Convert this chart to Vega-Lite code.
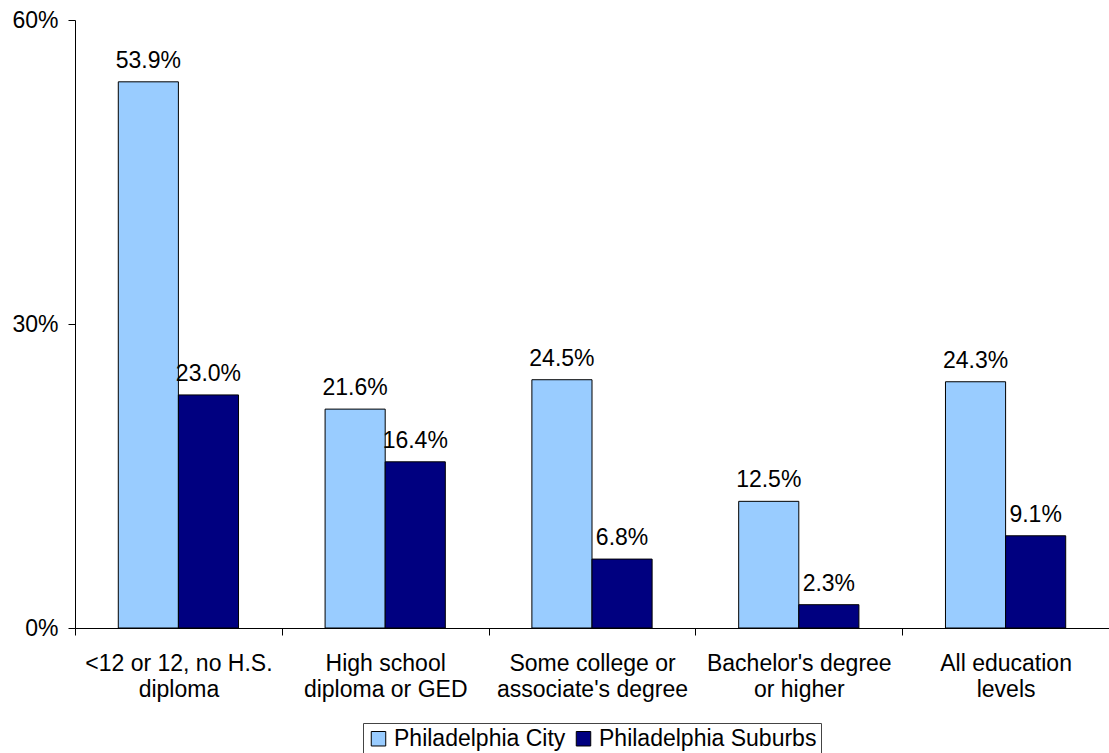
{
  "$schema": "https://vega.github.io/schema/vega-lite/v6.json",
  "width": 1034,
  "height": 608,
  "autosize": {"type": "none"},
  "padding": {"left": 75, "top": 20, "right": 0, "bottom": 125},
  "background": "white",
  "config": {
    "view": {"stroke": null},
    "font": "Liberation Sans",
    "axis": {"labelFont": "Liberation Sans", "labelColor": "black", "domainColor": "black", "tickColor": "black", "labelFontSize": 23}
  },
  "data": {
    "values": [
      {"edu": "<12 or 12, no H.S.|diploma", "area": "Philadelphia City", "value": 0.539},
      {"edu": "<12 or 12, no H.S.|diploma", "area": "Philadelphia Suburbs", "value": 0.230},
      {"edu": "High school|diploma or GED", "area": "Philadelphia City", "value": 0.216},
      {"edu": "High school|diploma or GED", "area": "Philadelphia Suburbs", "value": 0.164},
      {"edu": "Some college or|associate's degree", "area": "Philadelphia City", "value": 0.245},
      {"edu": "Some college or|associate's degree", "area": "Philadelphia Suburbs", "value": 0.068},
      {"edu": "Bachelor's degree|or higher", "area": "Philadelphia City", "value": 0.125},
      {"edu": "Bachelor's degree|or higher", "area": "Philadelphia Suburbs", "value": 0.023},
      {"edu": "All education|levels", "area": "Philadelphia City", "value": 0.243},
      {"edu": "All education|levels", "area": "Philadelphia Suburbs", "value": 0.091}
    ]
  },
  "encoding": {
    "x": {
      "field": "edu", "type": "nominal", "sort": null,
      "scale": {"paddingInner": 0, "paddingOuter": 0},
      "axis": {"title": null, "labelAngle": 0, "tickBand": "extent", "tickSize": 7, "labelPadding": 17, "labelExpr": "split(datum.label, '|')", "labelLineHeight": 26, "labelBaseline": "top", "labelLimit": 0}
    },
    "xOffset": {"field": "area", "type": "nominal", "scale": {"paddingInner": 0, "paddingOuter": 0.72}},
    "y": {
      "field": "value", "type": "quantitative",
      "scale": {"domain": [0, 0.6]},
      "axis": {"title": null, "values": [0, 0.3, 0.6], "format": ".0%", "grid": false, "tickSize": 7, "labelPadding": 10}
    }
  },
  "layer": [
    {
      "mark": {"type": "bar", "stroke": "black", "strokeWidth": 1},
      "encoding": {
        "color": {
          "field": "area", "type": "nominal",
          "scale": {"domain": ["Philadelphia City", "Philadelphia Suburbs"], "range": ["#99CCFF", "#000080"]},
          "legend": {
            "title": null, "orient": "none", "legendX": 288, "legendY": 703, "direction": "horizontal",
            "labelFontSize": 23, "labelFont": "Liberation Sans", "labelColor": "black", "labelLimit": 0,
            "symbolType": "square", "symbolSize": 210, "symbolStrokeColor": "black", "symbolStrokeWidth": 1,
            "strokeColor": "#444444", "padding": 4, "columnPadding": 6, "labelOffset": 4
          }
        }
      }
    },
    {
      "mark": {"type": "text", "baseline": "alphabetic", "dy": -14, "fontSize": 23, "font": "Liberation Sans", "color": "black"},
      "encoding": {"text": {"field": "value", "type": "quantitative", "format": ".1%"}}
    }
  ]
}
